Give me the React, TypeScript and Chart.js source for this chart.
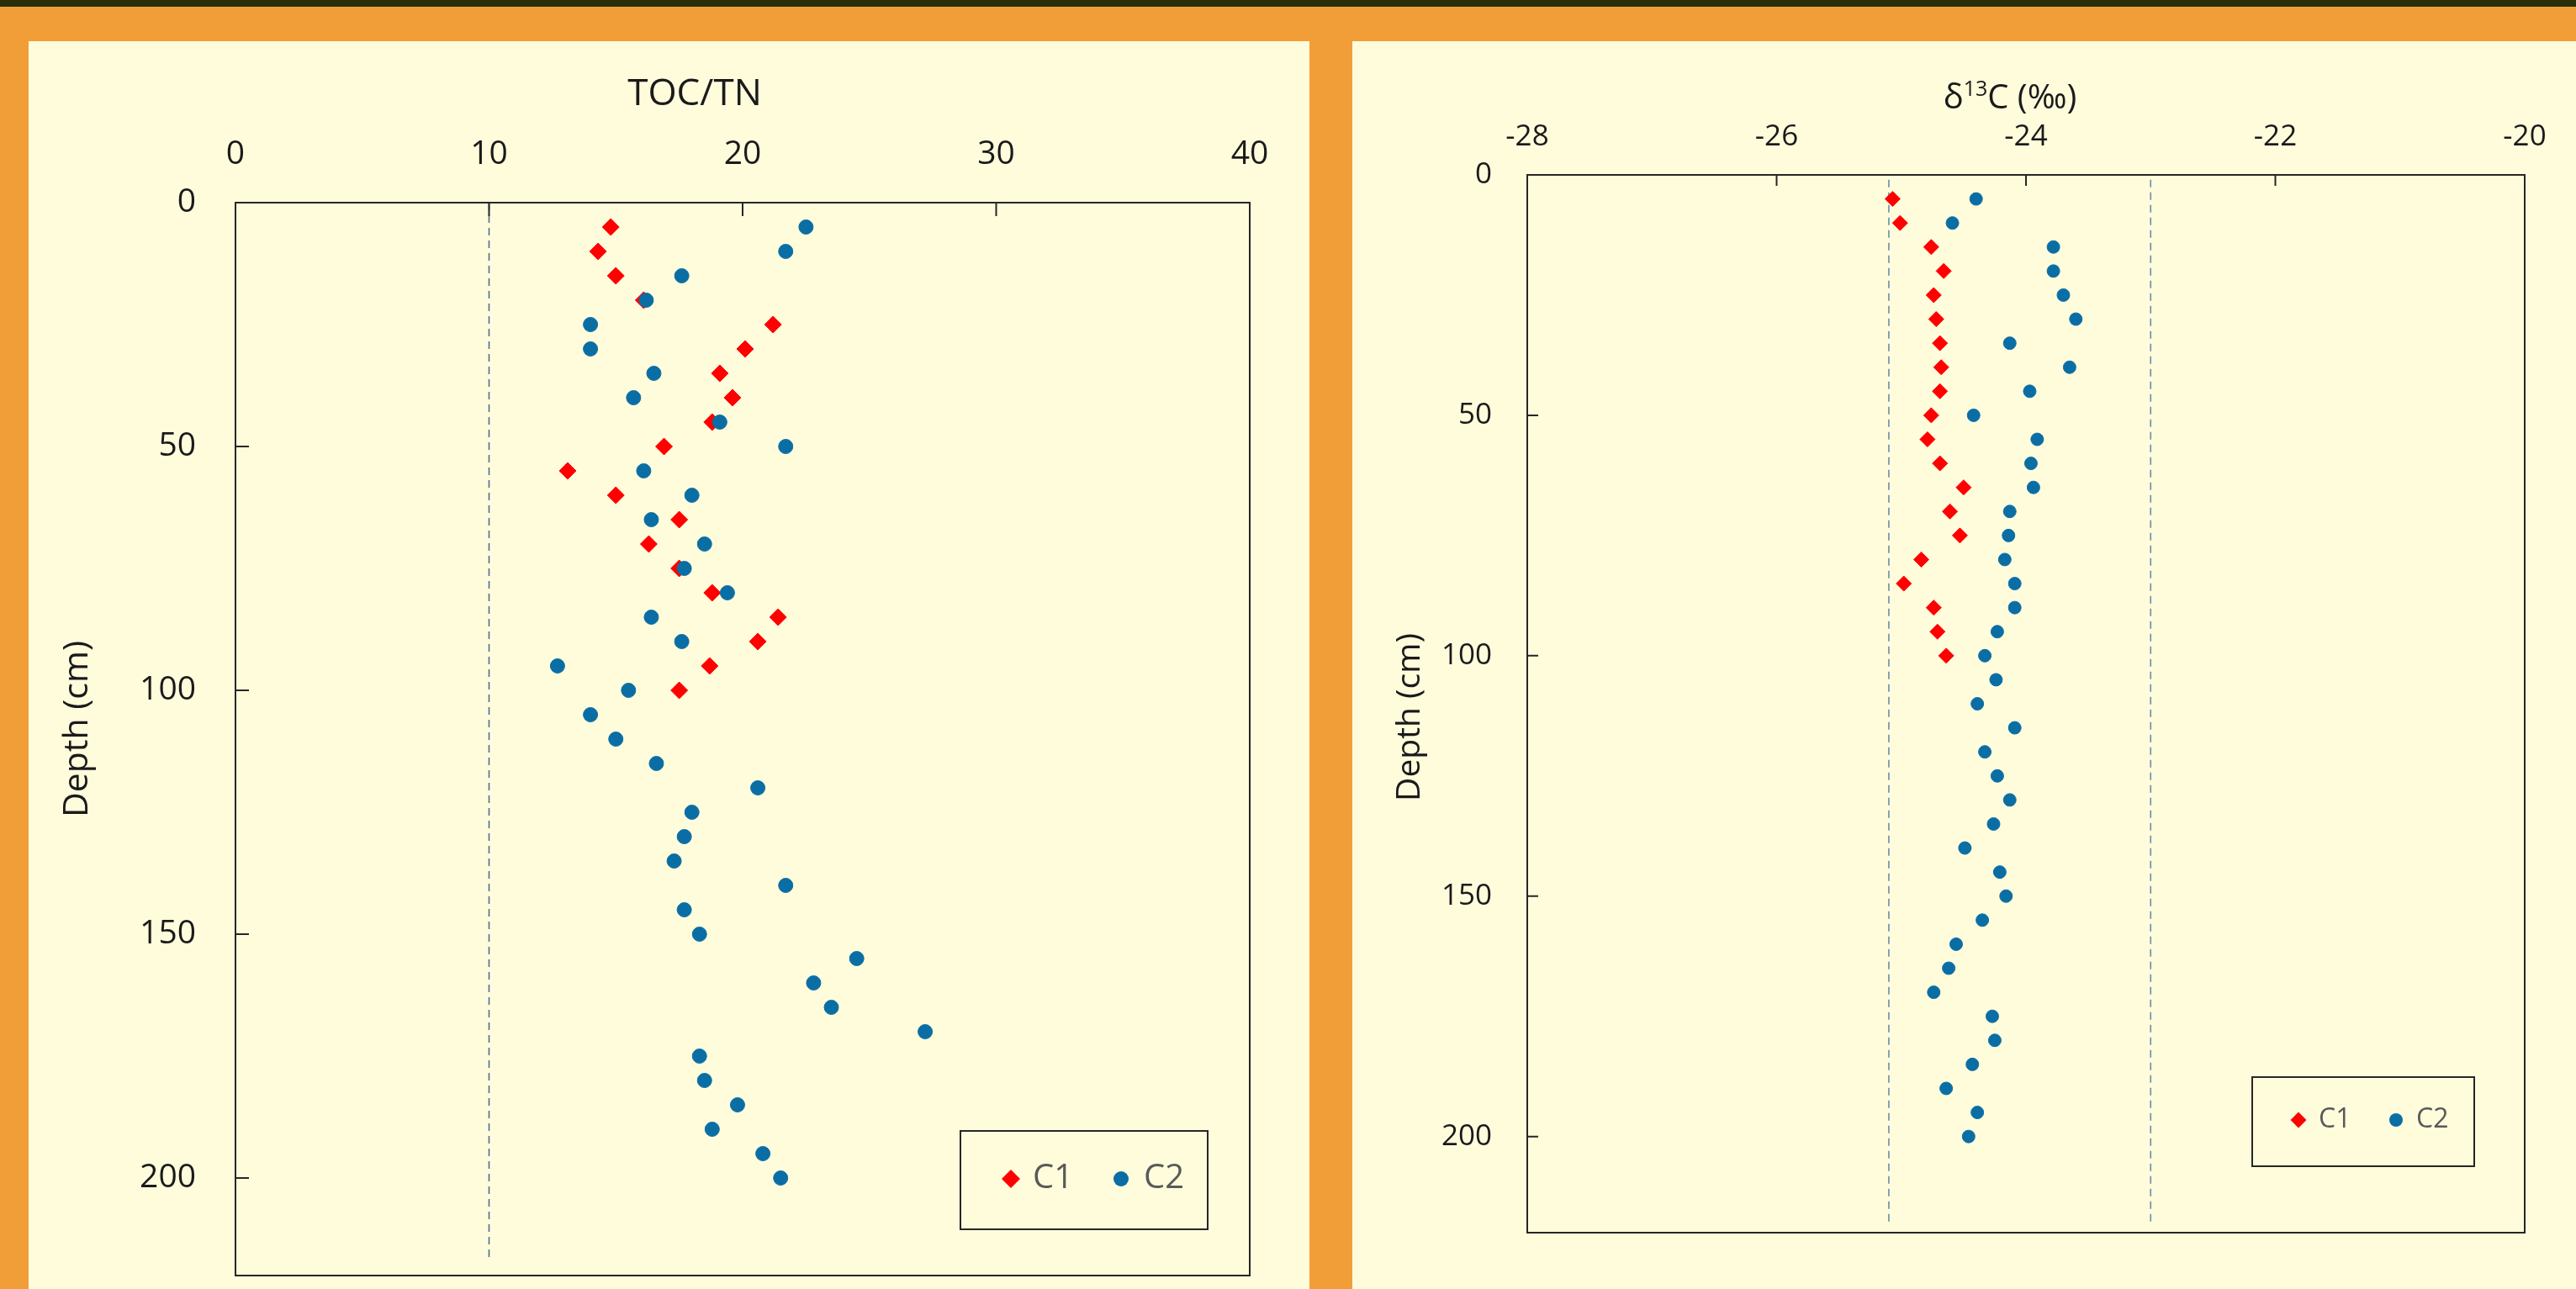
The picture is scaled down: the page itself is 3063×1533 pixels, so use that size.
import React, { useEffect, useRef } from 'react';
import { Chart, registerables } from 'chart.js';

Chart.register(...registerables);

// ---------------- DATA ----------------
const seriesNames = ['C1', 'C2'];

const depthC1 = [5, 10, 15, 20, 25, 30, 35, 40, 45, 50, 55, 60, 65, 70, 75, 80, 85, 90, 95, 100];
const depthC2 = [
  5, 10, 15, 20, 25, 30, 35, 40, 45, 50, 55, 60, 65, 70, 75, 80, 85, 90, 95, 100,
  105, 110, 115, 120, 125, 130, 135, 140, 145, 150, 155, 160, 165, 170, 175, 180, 185, 190, 195, 200,
];

const tocTnC1 = [
  14.8, 14.3, 15.0, 16.1, 21.2, 20.1, 19.1, 19.6, 18.8, 16.9,
  13.1, 15.0, 17.5, 16.3, 17.5, 18.8, 21.4, 20.6, 18.7, 17.5,
];
const tocTnC2 = [
  22.5, 21.7, 17.6, 16.2, 14.0, 14.0, 16.5, 15.7, 19.1, 21.7,
  16.1, 18.0, 16.4, 18.5, 17.7, 19.4, 16.4, 17.6, 12.7, 15.5,
  14.0, 15.0, 16.6, 20.6, 18.0, 17.7, 17.3, 21.7, 17.7, 18.3,
  24.5, 22.8, 23.5, 27.2, 18.3, 18.5, 19.8, 18.8, 20.8, 21.5,
];

const d13cC1 = [
  -25.07, -25.01, -24.76, -24.66, -24.74, -24.72, -24.69, -24.68, -24.69, -24.76,
  -24.79, -24.69, -24.5, -24.61, -24.53, -24.84, -24.98, -24.74, -24.71, -24.64,
];
const d13cC2 = [
  -24.4, -24.59, -23.78, -23.78, -23.7, -23.6, -24.13, -23.65, -23.97, -24.42,
  -23.91, -23.96, -23.94, -24.13, -24.14, -24.17, -24.09, -24.09, -24.23, -24.33,
  -24.24, -24.39, -24.09, -24.33, -24.23, -24.13, -24.26, -24.49, -24.21, -24.16,
  -24.35, -24.56, -24.62, -24.74, -24.27, -24.25, -24.43, -24.64, -24.39, -24.46,
];

const tocTnTicks = [0, 10, 20, 30, 40];
const d13cTicks = [-28, -26, -24, -22, -20];
const depthTicks = [0, 50, 100, 150, 200];
const depthRange = [0, 220];

// reference (dashed) lines
const tocTnRefX = [10, 10];
const tocTnRefDepth = [0, 217];
const d13cRefAX = [-25.1, -25.1];
const d13cRefBX = [-23, -23];
const d13cRefDepth = [1, 218];

// ---------------- STYLE ----------------
const FONT = '"Open Sans", "Liberation Sans", sans-serif';
const RED = '#FF0000';
const BLUE = '#0A6EA5';
const CREAM = '#FFFCDC';
const ORANGE = '#F29E38';
const DARK = '#2A2E0A';
const AXIS = '#262626';
const TEXT = '#1A1A1A';
const LEGEND_TEXT = '#595959';

type Panel = {
  w: number;
  h: number;
  yWidth: number;
  xHeight: number;
  padRight: number;
  padBottom: number;
  xMin: number;
  xMax: number;
  xTicks: number[];
  xPad: number;
  yPad: number;
  tickFont: number;
  tickLen: number;
  c1X: number[];
  c2X: number[];
  r1: number;
  r2: number;
  refs: { x: number[]; y: number[] }[];
  refColor: string;
  drawTitle: (ctx: CanvasRenderingContext2D) => void;
  depthTitle: { x: number; y: number; size: number };
  legend: { box: [number, number, number, number]; cy: number; m1: number; t1: number; m2: number; t2: number; size: number; r1: number; r2: number };
};

function diamond(ctx: CanvasRenderingContext2D, x: number, y: number, r: number) {
  ctx.beginPath();
  ctx.moveTo(x - r, y);
  ctx.lineTo(x, y - r);
  ctx.lineTo(x + r, y);
  ctx.lineTo(x, y + r);
  ctx.closePath();
  ctx.fill();
}

function makeDecor(p: Panel) {
  return {
    id: 'decor',
    afterDraw(chart: any) {
      const { ctx, chartArea: a, scales } = chart;
      ctx.save();
      // frame
      ctx.strokeStyle = AXIS;
      ctx.lineWidth = 2;
      ctx.strokeRect(a.left, a.top, a.right - a.left, a.bottom - a.top);
      // inward ticks
      ctx.beginPath();
      p.xTicks.forEach((v) => {
        const px = scales.x.getPixelForValue(v);
        if (px > a.left + 2 && px < a.right - 2) {
          ctx.moveTo(px, a.top);
          ctx.lineTo(px, a.top + p.tickLen);
        }
      });
      depthTicks.forEach((v) => {
        const py = scales.y.getPixelForValue(v);
        if (py > a.top + 2 && py < a.bottom - 2) {
          ctx.moveTo(a.left, py);
          ctx.lineTo(a.left + p.tickLen, py);
        }
      });
      ctx.stroke();

      // titles
      ctx.fillStyle = TEXT;
      p.drawTitle(ctx);
      ctx.save();
      ctx.translate(p.depthTitle.x, p.depthTitle.y);
      ctx.rotate(-Math.PI / 2);
      ctx.font = `${p.depthTitle.size}px ${FONT}`;
      ctx.textAlign = 'center';
      ctx.textBaseline = 'middle';
      ctx.fillText('Depth (cm)', 0, 0);
      ctx.restore();

      // legend
      const L = p.legend;
      ctx.strokeStyle = AXIS;
      ctx.lineWidth = 2;
      ctx.strokeRect(L.box[0], L.box[1], L.box[2] - L.box[0], L.box[3] - L.box[1]);
      ctx.fillStyle = RED;
      diamond(ctx, L.m1, L.cy, L.r1);
      ctx.fillStyle = BLUE;
      ctx.beginPath();
      ctx.arc(L.m2, L.cy, L.r2, 0, Math.PI * 2);
      ctx.fill();
      ctx.fillStyle = LEGEND_TEXT;
      ctx.font = `${L.size}px ${FONT}`;
      ctx.textAlign = 'left';
      ctx.textBaseline = 'middle';
      ctx.fillText(seriesNames[0], L.t1, L.cy);
      ctx.fillText(seriesNames[1], L.t2, L.cy);
      ctx.restore();
    },
  };
}

function buildChart(canvas: HTMLCanvasElement, p: Panel, c1Y: number[], c2Y: number[]) {
  const pts = (xs: number[], ys: number[]) => xs.map((v, i) => ({ x: v, y: ys[i] }));
  const datasets: any[] = [
    {
      label: seriesNames[0],
      data: pts(p.c1X, c1Y),
      pointStyle: 'rectRot',
      pointRadius: p.r1,
      backgroundColor: RED,
      borderColor: RED,
      pointBorderWidth: 1,
      showLine: false,
      order: 1,
    },
    {
      label: seriesNames[1],
      data: pts(p.c2X, c2Y),
      pointStyle: 'circle',
      pointRadius: p.r2,
      backgroundColor: BLUE,
      borderColor: BLUE,
      pointBorderWidth: 1,
      showLine: false,
      order: 0,
    },
    ...p.refs.map((r) => ({
      label: '',
      data: pts(r.x, r.y),
      showLine: true,
      borderColor: p.refColor,
      borderWidth: 1.6,
      borderDash: [9, 6],
      pointRadius: 0,
      fill: false,
      order: 2,
    })),
  ];
  const tickFont = { family: FONT, size: p.tickFont };
  return new Chart(canvas, {
    type: 'scatter',
    data: { datasets },
    options: {
      animation: false,
      responsive: false,
      devicePixelRatio: 1,
      layout: { padding: { left: 0, top: 0, right: p.padRight, bottom: p.padBottom } },
      plugins: { legend: { display: false }, tooltip: { enabled: false } },
      scales: {
        x: {
          type: 'linear',
          position: 'top',
          min: p.xMin,
          max: p.xMax,
          afterBuildTicks: (s: any) => {
            s.ticks = p.xTicks.map((v) => ({ value: v }));
          },
          afterFit: (s: any) => {
            s.height = p.xHeight;
            s.paddingLeft = 0;
            s.paddingRight = 0;
          },
          grid: { display: false },
          border: { display: false },
          ticks: { font: tickFont, color: TEXT, padding: p.xPad, maxRotation: 0, autoSkip: false },
        },
        y: {
          type: 'linear',
          position: 'left',
          reverse: true,
          min: depthRange[0],
          max: depthRange[1],
          afterBuildTicks: (s: any) => {
            s.ticks = depthTicks.map((v) => ({ value: v }));
          },
          afterFit: (s: any) => {
            s.width = p.yWidth;
            s.paddingTop = 0;
            s.paddingBottom = 0;
          },
          grid: { display: false },
          border: { display: false },
          ticks: { font: tickFont, color: TEXT, padding: p.yPad, autoSkip: false },
        },
      },
    } as any,
    plugins: [makeDecor(p)],
  });
}

const leftPanel: Panel = {
  w: 1523,
  h: 1484,
  yWidth: 246,
  xHeight: 192,
  padRight: 71,
  padBottom: 16,
  xMin: tocTnTicks[0],
  xMax: tocTnTicks[tocTnTicks.length - 1],
  xTicks: tocTnTicks,
  xPad: 26,
  yPad: 39,
  tickFont: 39,
  tickLen: 16,
  c1X: tocTnC1,
  c2X: tocTnC2,
  r1: 10,
  r2: 8.5,
  refs: [{ x: tocTnRefX, y: tocTnRefDepth }],
  refColor: '#4A6E92',
  drawTitle: (ctx) => {
    ctx.font = `44px ${FONT}`;
    ctx.textAlign = 'center';
    ctx.textBaseline = 'middle';
    ctx.fillText('TOC/TN', 792, 63);
  },
  depthTitle: { x: 58, y: 818, size: 41 },
  legend: { box: [1108, 1296, 1402, 1413], cy: 1353, m1: 1168, t1: 1194, m2: 1299, t2: 1326, size: 40, r1: 11, r2: 9 },
};

const rightPanel: Panel = {
  w: 1455,
  h: 1484,
  yWidth: 208,
  xHeight: 159,
  padRight: 61,
  padBottom: 67,
  xMin: d13cTicks[0],
  xMax: d13cTicks[d13cTicks.length - 1],
  xTicks: d13cTicks,
  xPad: 16,
  yPad: 34,
  tickFont: 35,
  tickLen: 13,
  c1X: d13cC1,
  c2X: d13cC2,
  r1: 9,
  r2: 7.5,
  refs: [
    { x: d13cRefAX, y: d13cRefDepth },
    { x: d13cRefBX, y: d13cRefDepth },
  ],
  refColor: '#6A8CAB',
  drawTitle: (ctx) => {
    const big = 40;
    const small = 25;
    const p1 = 'δ';
    const p2 = '13';
    const p3 = 'C (‰)';
    ctx.textBaseline = 'alphabetic';
    ctx.textAlign = 'left';
    ctx.font = `${big}px ${FONT}`;
    const w1 = ctx.measureText(p1).width;
    const w3 = ctx.measureText(p3).width;
    ctx.font = `${small}px ${FONT}`;
    const w2 = ctx.measureText(p2).width;
    const total = w1 + w2 + w3;
    const cx = 782;
    const base = 80;
    let x = cx - total / 2;
    ctx.font = `${big}px ${FONT}`;
    ctx.fillText(p1, x, base);
    x += w1;
    ctx.font = `${small}px ${FONT}`;
    ctx.fillText(p2, x, base - 15);
    x += w2;
    ctx.font = `${big}px ${FONT}`;
    ctx.fillText(p3, x, base);
  },
  depthTitle: { x: 69, y: 804, size: 39 },
  legend: { box: [1070, 1232, 1334, 1338], cy: 1283, m1: 1125, t1: 1149, m2: 1241, t2: 1265, size: 32, r1: 9.5, r2: 8 },
};

export default function App() {
  const leftRef = useRef<HTMLCanvasElement>(null);
  const rightRef = useRef<HTMLCanvasElement>(null);

  useEffect(() => {
    const a = buildChart(leftRef.current as HTMLCanvasElement, leftPanel, depthC1, depthC2);
    const b = buildChart(rightRef.current as HTMLCanvasElement, rightPanel, depthC1, depthC2);
    return () => {
      a.destroy();
      b.destroy();
    };
  }, []);

  return (
    <div style={{ position: 'fixed', left: 0, top: 0, width: 3063, height: 1533, background: ORANGE, overflow: 'hidden' }}>
      <div style={{ position: 'absolute', left: 0, top: 0, width: 3063, height: 8, background: DARK }} />
      <canvas
        ref={leftRef}
        width={leftPanel.w}
        height={leftPanel.h}
        style={{ position: 'absolute', left: 34, top: 49, width: leftPanel.w, height: leftPanel.h, background: CREAM }}
      />
      <canvas
        ref={rightRef}
        width={rightPanel.w}
        height={rightPanel.h}
        style={{ position: 'absolute', left: 1608, top: 49, width: rightPanel.w, height: rightPanel.h, background: CREAM }}
      />
    </div>
  );
}
